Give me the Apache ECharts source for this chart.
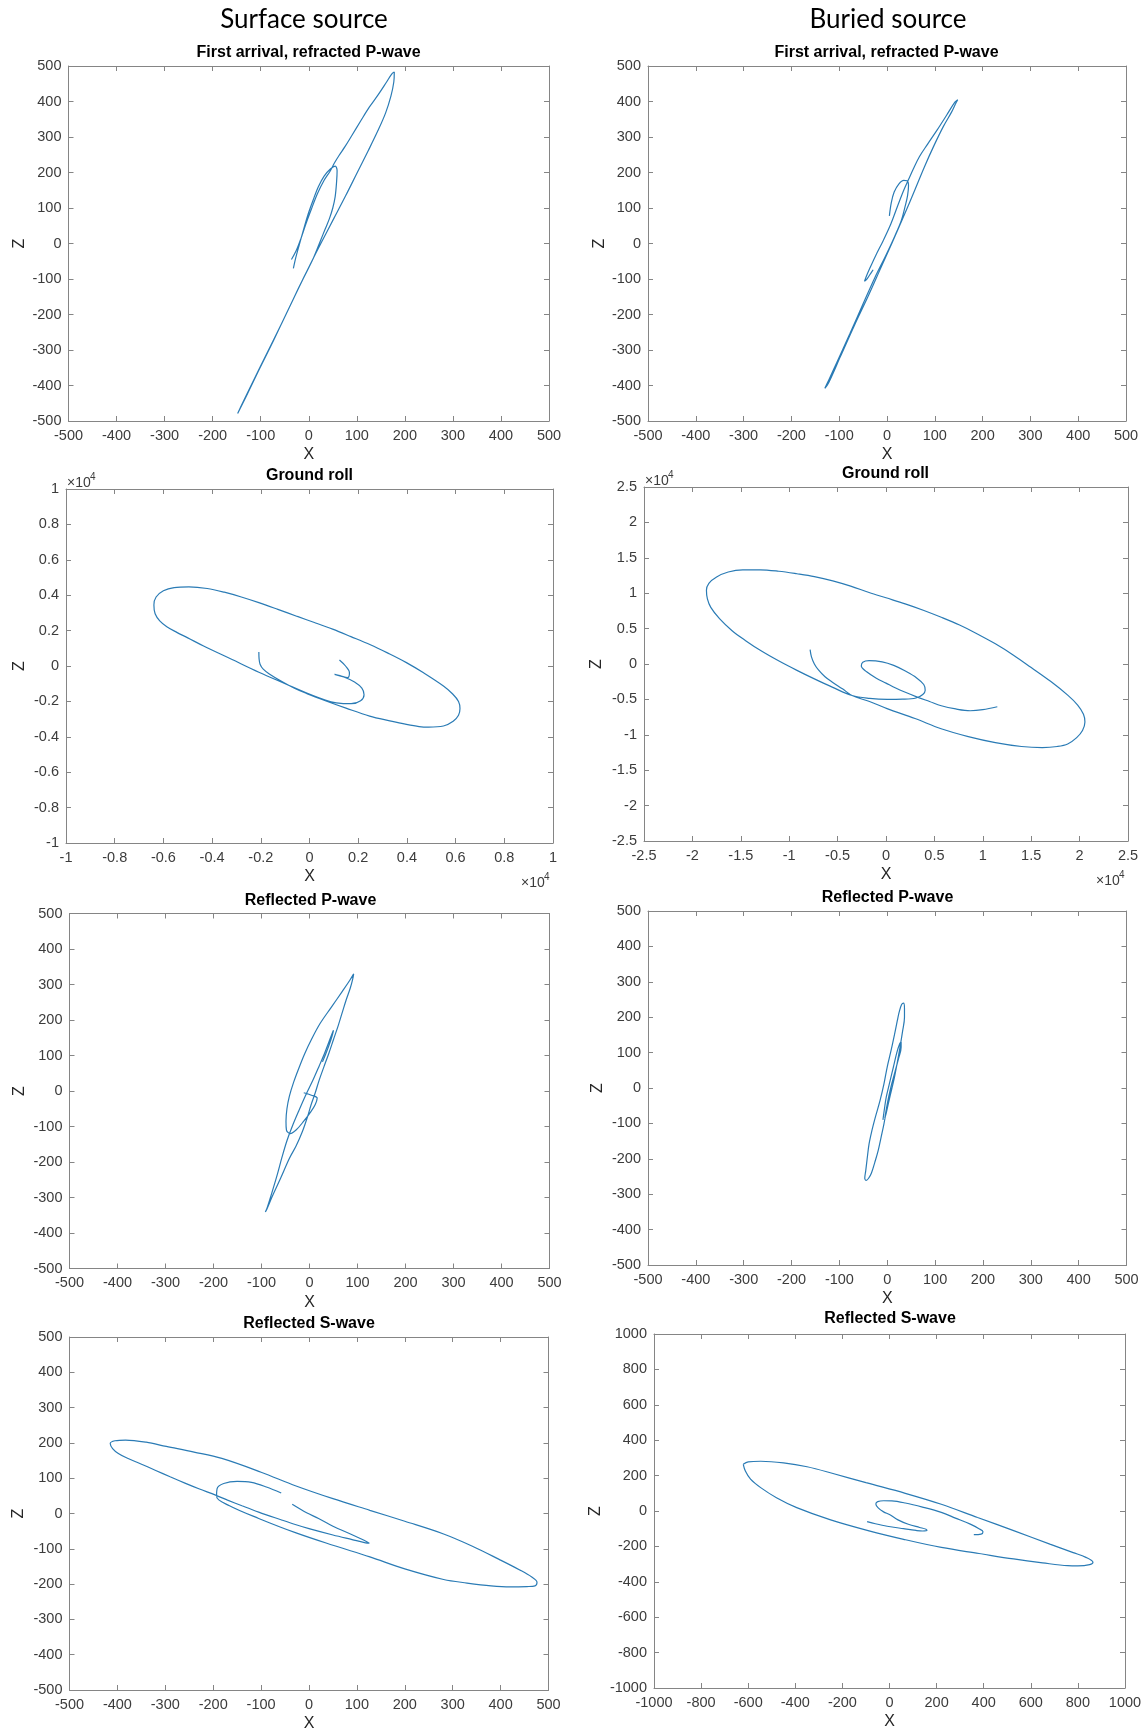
<!DOCTYPE html>
<html>
<head>
<meta charset="utf-8">
<script src="https://cdn.jsdelivr.net/npm/echarts@6/dist/echarts.min.js"></script>
<style>
  html, body { margin: 0; padding: 0; background: #ffffff; }
  #chart { width: 1147px; height: 1733px; }
</style>
</head>
<body>
<div id="chart"></div>
<script>
// Particle-motion hodograms (X vs Z displacement), surface vs buried source.

// First arrival, refracted P-wave
const surfRefractedP = [
  [-32,-70],[-27,-40],[-20,-5],[-11,38],[-2,80],[9,122],[20,160],[32,190],[45,210],[55,218],
  [59,205],[58,175],[55,132],[50,100],[43,70],[34,40],[25,10],[10,-40],[-13,-103],[-44,-190],
  [-74,-275],[-105,-360],[-130,-430],[-148,-479],[-138,-450],[-102,-350],[-69,-260],[-44,-190],
  [-21,-125],[3,-59],[27,5],[52,70],[77,135],[101,200],[124,262],[144,318],[160,368],[171,415],
  [177,455],[178,483],[173,478],[162,455],[145,420],[126,384],[108,345],[90,305],[75,272],
  [63,248],[54,228],[45,205],[32,178],[18,140],[5,95],[-6,55],[-16,15],[-26,-20],[-36,-45]
];
const buriedRefractedP = [
  [5,78],[9,115],[15,145],[25,168],[35,178],[42,177],[45,163],[43,135],[38,105],[30,65],
  [16,20],[-3,-35],[-25,-95],[-50,-170],[-78,-255],[-105,-335],[-122,-385],[-130,-408],
  [-122,-392],[-98,-320],[-68,-230],[-40,-150],[-15,-75],[10,0],[36,80],[58,150],[78,215],
  [98,275],[118,330],[135,370],[145,398],[148,405],[142,398],[125,362],[105,320],[85,280],
  [68,245],[55,210],[45,180],[35,150],[22,105],[8,55],[-8,8],[-24,-35],[-36,-70],[-44,-95],
  [-47,-106],[-43,-102],[-36,-88],[-29,-74]
];

// Ground roll
const surfGroundRoll = [
  [-2080,790],[-2070,400],[-2030,100],[-1900,-180],[-1650,-450],[-1170,-850],[-600,-1270],
  [-110,-1560],[650,-1960],[1500,-2380],[2470,-2830],[3300,-3100],[3980,-3300],[4500,-3420],
  [4890,-3450],[5500,-3390],[5900,-3120],[6120,-2780],[6180,-2400],[6120,-2000],[5880,-1580],
  [5500,-1130],[4700,-400],[3980,190],[3200,740],[2500,1200],[1700,1660],[950,2080],[200,2460],
  [-500,2800],[-1300,3200],[-2080,3580],[-2800,3900],[-3500,4170],[-4200,4380],[-4950,4470],
  [-5560,4430],[-6000,4250],[-6300,3900],[-6390,3450],[-6340,2950],[-6150,2550],[-5860,2220],
  [-5450,1900],[-5000,1590],[-4350,1130],[-3200,380],[-2080,-350],[-1000,-1000],[-110,-1530],
  [650,-1930],[1100,-2080],[1710,-2130],[2100,-1960],[2240,-1620],[2150,-1250],[1850,-900],
  [1410,-620],[1030,-470],[1250,-540],[1560,-660],[1640,-380],[1480,0],[1230,340]
];
const buriedGroundRoll = [
  [-7840,2030],[-7700,1000],[-7400,0],[-7000,-800],[-6300,-1800],[-5500,-2600],[-4500,-3500],
  [-3500,-4450],[-1700,-5300],[110,-6300],[3000,-7700],[5700,-9150],[8500,-10250],
  [11300,-11100],[14000,-11650],[16150,-11800],[17700,-11650],[18770,-11300],[19700,-10400],
  [20300,-9400],[20550,-8200],[20400,-7100],[19800,-5800],[18770,-4400],[17000,-2450],
  [15000,-500],[13170,1250],[11300,2850],[9440,4250],[7600,5500],[5710,6600],[3850,7600],
  [1980,8500],[0,9350],[-1750,10100],[-3650,11000],[-5500,11750],[-7400,12350],[-9200,12750],
  [-11080,13100],[-13000,13300],[-14800,13300],[-16300,13000],[-17500,12300],[-18300,11400],
  [-18550,10400],[-18450,9200],[-18100,8000],[-17200,6400],[-15900,4700],[-14500,3300],
  [-12950,1900],[-11100,450],[-9200,-900],[-7400,-2100],[-5500,-3300],[-3500,-4450],
  [-1700,-4850],[110,-5000],[1700,-4970],[3100,-4800],[3800,-4300],[4050,-3700],[3900,-2900],
  [3200,-2000],[2000,-1000],[800,-200],[-400,300],[-1750,470],[-2400,250],[-2550,-300],
  [-2000,-1100],[-1000,-2000],[0,-2700],[1000,-3400],[2000,-4000],[3100,-4600],[4500,-5300],
  [5710,-5900],[7200,-6350],[8700,-6600],[10000,-6450],[11500,-6040]
];

// Reflected P-wave
const surfReflectedP = [
  [-12,-5],[4,-12],[16,-20],[12,-38],[3,-58],[-12,-85],[-28,-110],[-40,-120],[-48,-110],
  [-49,-85],[-47,-50],[-42,-15],[-33,25],[-22,65],[-10,105],[4,145],[22,190],[46,237],[68,280],
  [84,312],[92,330],[90,315],[85,290],[76,255],[68,220],[60,185],[50,145],[40,105],[30,68],
  [20,30],[12,-5],[3,-40],[-4,-72],[-15,-115],[-28,-155],[-42,-190],[-60,-245],[-77,-295],
  [-88,-330],[-92,-341],[-88,-328],[-78,-285],[-67,-235],[-57,-185],[-47,-140],[-36,-100],
  [-22,-55],[-8,-12],[7,30],[20,70],[31,105],[41,140],[48,165],[50,171],[47,155],[41,130],
  [34,105],[27,82]
];
const buriedReflectedP = [
  [-9,-90],[-6,-60],[-2,-25],[5,15],[13,60],[20,100],[26,125],[29,130],[29,115],[24,85],
  [16,45],[9,10],[3,-25],[-2,-60],[-5,-85],[-2,-70],[3,-40],[9,-5],[15,30],[20,65],[26,110],
  [32,160],[36,200],[36,225],[34,240],[30,236],[25,215],[21,190],[15,150],[8,106],[0,60],
  [-7,11],[-15,-35],[-25,-83],[-32,-120],[-38,-158],[-42,-200],[-45,-234],[-47,-255],
  [-44,-261],[-39,-255],[-33,-240],[-26,-210],[-19,-177],[-13,-140],[-7,-102],[-2,-65],
  [3,-30],[8,0]
];

// Reflected S-wave
const surfReflectedS = [
  [-35,26],[-5,2],[20,-14],[50,-36],[90,-60],[115,-76],[126,-84],[118,-83],[90,-74],[50,-61],
  [0,-43],[-27,-32],[-60,-17],[-105,4],[-140,22],[-170,38],[-195,52],[-230,70],[-259,86],
  [-290,104],[-320,122],[-352,141],[-380,157],[-398,170],[-410,184],[-415,198],[-405,206],
  [-383,208],[-340,202],[-298,190],[-240,174],[-182,156],[-100,117],[-27,78],[50,42],[127,9],
  [200,-22],[281,-58],[340,-92],[397,-130],[440,-160],[465,-180],[476,-195],[472,-205],
  [455,-207],[420,-208],[380,-205],[330,-197],[281,-187],[200,-157],[127,-123],[50,-90],
  [-27,-55],[-105,-14],[-166,22],[-193,48],[-192,70],[-178,85],[-150,91],[-120,88],[-89,75],
  [-58,58]
];
const buriedReflectedSOuter = [
  [-621,264],[-600,278],[-547,281],[-450,272],[-350,250],[-240,212],[-100,160],[67,100],
  [220,38],[374,-37],[530,-112],[681,-187],[780,-235],[834,-262],[864,-290],[850,-303],
  [800,-310],[757,-309],[650,-293],[527,-271],[380,-240],[220,-206],[60,-160],[-87,-112],
  [-250,-50],[-394,19],[-480,75],[-547,132],[-590,180],[-612,226],[-621,264]
];
const buriedReflectedSInner = [
  [358,-134],[389,-131],[397,-117],[380,-100],[343,-74],[280,-40],[220,-8],[140,22],[67,45],
  [10,57],[-25,58],[-50,53],[-58,40],[-48,18],[-25,-5],[0,-20],[36,-50],[80,-75],[128,-93],
  [155,-103],[159,-110],[140,-113],[113,-110],[60,-100],[-10,-86],[-60,-72],[-95,-60]
];

// Axis ranges: [min, max, interval]
const rangePm500 = [-500, 500, 100];
const rangeGroundSurf = [-10000, 10000, 2000];
const rangeGroundBuried = [-25000, 25000, 5000];
const rangePm1000 = [-1000, 1000, 200];

// Column headers and panel titles
const columnHeaders = ['Surface source', 'Buried source'];
const panelTitles = ['First arrival, refracted P-wave', 'Ground roll', 'Reflected P-wave', 'Reflected S-wave'];

const LINE_COLOR = '#2a7bb5';
const AXIS_COLOR = '#858585';
const LABEL_COLOR = '#3c3c3c';
const FONT = 'Liberation Sans, Arial, sans-serif';

const plainFmt = v => String(v);
const e4Fmt = v => String(+(v / 1e4).toFixed(2));

const panels = [
  { box: [68.5, 66, 480.5, 355], x: rangePm500, y: rangePm500, title: panelTitles[0], tc: [308.6, 52.5], zGap: 41, fmt: plainFmt, series: [surfRefractedP] },
  { box: [648, 66, 478, 355], x: rangePm500, y: rangePm500, title: panelTitles[0], tc: [886.5, 53], zGap: 40, fmt: plainFmt, series: [buriedRefractedP] },
  { box: [66, 489, 487, 354], x: rangeGroundSurf, y: rangeGroundSurf, title: panelTitles[1], tc: [309.5, 476], zGap: 38, fmt: e4Fmt, series: [surfGroundRoll], exp: true },
  { box: [644, 487, 484, 354], x: rangeGroundBuried, y: rangeGroundBuried, title: panelTitles[1], tc: [885.5, 474], zGap: 39, fmt: e4Fmt, series: [buriedGroundRoll], exp: true },
  { box: [69.5, 913.5, 480, 355], x: rangePm500, y: rangePm500, title: panelTitles[2], tc: [310.5, 900.5], zGap: 42, fmt: plainFmt, series: [surfReflectedP] },
  { box: [648, 911, 478.5, 354], x: rangePm500, y: rangePm500, title: panelTitles[2], tc: [887.5, 897.5], zGap: 42, fmt: plainFmt, series: [buriedReflectedP] },
  { box: [69.5, 1337, 479, 353], x: rangePm500, y: rangePm500, title: panelTitles[3], tc: [309, 1323.5], zGap: 43, fmt: plainFmt, series: [surfReflectedS] },
  { box: [654, 1334, 471, 354], x: rangePm1000, y: rangePm1000, title: panelTitles[3], tc: [890, 1319], zGap: 50, fmt: plainFmt, series: [buriedReflectedSOuter, buriedReflectedSInner] }
];

const grid = [], xAxis = [], yAxis = [], series = [], graphic = [];

const lineStyle = { color: AXIS_COLOR, width: 1 };
const tickStyle = { show: true, inside: true, length: 5, lineStyle: { color: AXIS_COLOR, width: 1 } };

panels.forEach((p, i) => {
  const [left, top, width, height] = p.box;
  grid.push({ left, top, width, height, show: false });

  const labelStyle = (fmt) => ({
    show: true, color: LABEL_COLOR, fontSize: 14.5, fontFamily: FONT, margin: 7,
    formatter: fmt, showMinLabel: true, showMaxLabel: true
  });

  // bottom x axis with labels + mirrored top axis
  xAxis.push({
    gridIndex: i, type: 'value', position: 'bottom',
    min: p.x[0], max: p.x[1], interval: p.x[2],
    axisLine: { show: true, onZero: false, lineStyle },
    axisTick: tickStyle, splitLine: { show: false },
    axisLabel: labelStyle(p.fmt),
    name: 'X', nameLocation: 'middle', nameGap: 26,
    nameTextStyle: { fontSize: 16, color: '#262626', fontFamily: FONT }
  });
  xAxis.push({
    gridIndex: i, type: 'value', position: 'top',
    min: p.x[0], max: p.x[1], interval: p.x[2],
    axisLine: { show: true, onZero: false, lineStyle },
    axisTick: tickStyle, splitLine: { show: false }, axisLabel: { show: false }
  });
  // left y axis with labels + mirrored right axis
  yAxis.push({
    gridIndex: i, type: 'value', position: 'left',
    min: p.y[0], max: p.y[1], interval: p.y[2],
    axisLine: { show: true, onZero: false, lineStyle },
    axisTick: tickStyle, splitLine: { show: false },
    axisLabel: labelStyle(p.fmt),
    name: 'Z', nameLocation: 'middle', nameGap: p.zGap,
    nameTextStyle: { fontSize: 16, color: '#262626', fontFamily: FONT }
  });
  yAxis.push({
    gridIndex: i, type: 'value', position: 'right',
    min: p.y[0], max: p.y[1], interval: p.y[2],
    axisLine: { show: true, onZero: false, lineStyle },
    axisTick: tickStyle, splitLine: { show: false }, axisLabel: { show: false }
  });

  p.series.forEach(d => {
    series.push({
      type: 'line', xAxisIndex: 2 * i, yAxisIndex: 2 * i, data: d,
      symbol: 'none', showSymbol: false, smooth: 0.35, silent: true,
      lineStyle: { color: LINE_COLOR, width: 1.2 }
    });
  });

  graphic.push({
    type: 'text', x: p.tc[0], y: p.tc[1], silent: true,
    style: { text: p.title, font: 'bold 16px ' + FONT, fill: '#000', align: 'center', verticalAlign: 'middle' }
  });

  if (p.exp) {
    // "x10^4" exponent markers at the top of the Z axis and the end of the X axis
    const right = left + width;
    const marks = [[left + 1, top - 6], [right - 32, top + height + 40]];
    marks.forEach(([mx, my]) => {
      graphic.push({ type: 'text', x: mx, y: my, silent: true,
        style: { text: '\u00d710', font: '14px ' + FONT, fill: LABEL_COLOR, align: 'left', verticalAlign: 'middle' } });
      graphic.push({ type: 'text', x: mx + 23, y: my - 6, silent: true,
        style: { text: '4', font: '10px ' + FONT, fill: LABEL_COLOR, align: 'left', verticalAlign: 'middle' } });
    });
  }
});

// Column headers
graphic.push({ type: 'text', x: 304, y: 20, silent: true,
  style: { text: columnHeaders[0], font: '26px Lato, "Open Sans", sans-serif', fill: '#000', align: 'center', verticalAlign: 'middle' } });
graphic.push({ type: 'text', x: 888, y: 20, silent: true,
  style: { text: columnHeaders[1], font: '26px Lato, "Open Sans", sans-serif', fill: '#000', align: 'center', verticalAlign: 'middle' } });

const chart = echarts.init(document.getElementById('chart'), null, { renderer: 'canvas' });
chart.setOption({
  backgroundColor: '#ffffff',
  animation: false,
  grid, xAxis, yAxis, series, graphic
});
</script>
</body>
</html>
